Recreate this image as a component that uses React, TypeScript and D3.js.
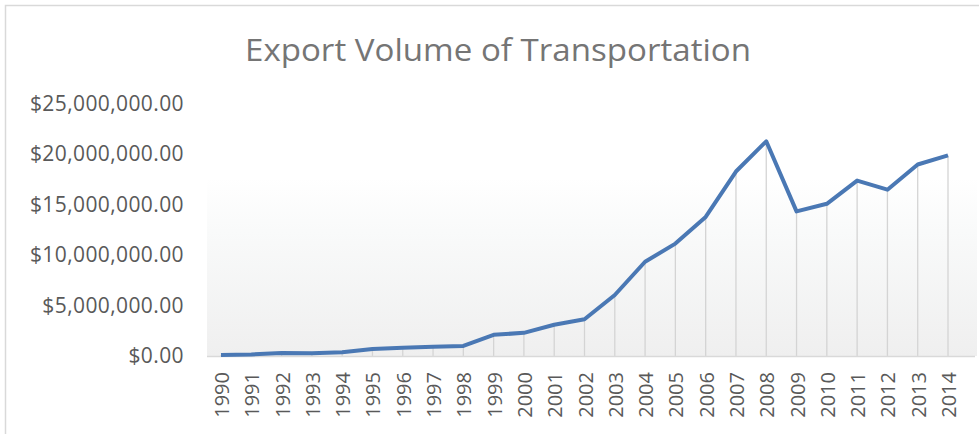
import React, { useEffect, useRef } from 'react';
import * as d3 from 'd3';

const years: string[] = [
  '1990', '1991', '1992', '1993', '1994', '1995', '1996', '1997', '1998', '1999',
  '2000', '2001', '2002', '2003', '2004', '2005', '2006', '2007', '2008', '2009',
  '2010', '2011', '2012', '2013', '2014',
];

const exportVolume: number[] = [
  100000, 150000, 300000, 280000, 380000, 700000, 830000, 920000, 1000000, 2100000,
  2300000, 3100000, 3650000, 6050000, 9350000, 11150000, 13800000, 18300000, 21300000, 14350000,
  15100000, 17400000, 16500000, 19000000, 19900000,
];

const yTicks: number[] = [0, 5000000, 10000000, 15000000, 20000000, 25000000];

const App: React.FC = () => {
  const ref = useRef<SVGSVGElement | null>(null);

  useEffect(() => {
    if (!ref.current) return;
    const svg = d3.select(ref.current);
    svg.selectAll('*').remove();

    const width = 979;
    const height = 434;
    const plot = { left: 207, right: 977, top: 178, bottom: 356 };

    // chart border (top + left)
    svg.append('path')
      .attr('d', `M5.5,${height} L5.5,5.5 L${width},5.5`)
      .attr('fill', 'none')
      .attr('stroke', '#d9d9d9')
      .attr('stroke-width', 1.5);

    // gradient plot background
    const defs = svg.append('defs');
    const grad = defs.append('linearGradient')
      .attr('id', 'bg')
      .attr('x1', 0).attr('y1', 0).attr('x2', 0).attr('y2', 1);
    grad.append('stop').attr('offset', '0%').attr('stop-color', '#ffffff');
    grad.append('stop').attr('offset', '30%').attr('stop-color', '#f9fafa');
    grad.append('stop').attr('offset', '100%').attr('stop-color', '#efefef');

    svg.append('rect')
      .attr('x', plot.left)
      .attr('y', plot.top)
      .attr('width', plot.right - plot.left)
      .attr('height', plot.bottom - plot.top)
      .attr('fill', 'url(#bg)');

    const x = d3.scalePoint<string>()
      .domain(years)
      .range([221, 948]);

    const y = d3.scaleLinear()
      .domain([0, 25000000])
      .range([356, 104]);

    // title
    svg.append('text')
      .attr('x', 498)
      .attr('y', 61)
      .attr('text-anchor', 'middle')
      .style('font-family', '"Open Sans", sans-serif')
      .style('font-size', '31px')
      .style('fill', '#757575')
      .attr('textLength', 506)
      .attr('lengthAdjust', 'spacingAndGlyphs')
      .text('Export Volume of Transportation');

    // y axis labels
    const fmt = d3.format('$,.2f');
    svg.append('g')
      .selectAll('text')
      .data(yTicks)
      .enter()
      .append('text')
      .attr('x', 184)
      .attr('y', (d) => y(d) + 7)
      .attr('text-anchor', 'end')
      .style('font-family', '"Open Sans", sans-serif')
      .style('font-size', '21px')
      .style('letter-spacing', '0.4px')
      .style('fill', '#595959')
      .text((d) => fmt(d));

    // drop lines
    svg.append('g')
      .selectAll('line')
      .data(exportVolume)
      .enter()
      .append('line')
      .attr('x1', (_, i) => x(years[i]) || 0)
      .attr('x2', (_, i) => x(years[i]) || 0)
      .attr('y1', (d) => y(d))
      .attr('y2', y(0))
      .attr('stroke', '#d4d4d4')
      .attr('stroke-width', 1.3);

    // baseline
    svg.append('line')
      .attr('x1', plot.left)
      .attr('x2', plot.right - 2)
      .attr('y1', y(0) + 0.5)
      .attr('y2', y(0) + 0.5)
      .attr('stroke', '#d9d9d9')
      .attr('stroke-width', 1.5);

    // series line
    const line = d3.line<number>()
      .x((_, i) => x(years[i]) || 0)
      .y((d) => y(d));

    svg.append('path')
      .datum(exportVolume)
      .attr('d', line)
      .attr('fill', 'none')
      .attr('stroke', '#4a78b4')
      .attr('stroke-width', 4)
      .attr('stroke-linejoin', 'round');

    // x axis labels (rotated)
    svg.append('g')
      .selectAll('text')
      .data(years)
      .enter()
      .append('text')
      .attr('transform', (d) => `translate(${(x(d) || 0) + 8},372) rotate(-90)`)
      .attr('text-anchor', 'end')
      .style('font-family', '"Open Sans", sans-serif')
      .style('font-size', '20px')
      .style('fill', '#595959')
      .text((d) => d);
  }, []);

  return (
    <svg
      ref={ref}
      width={979}
      height={434}
      style={{ position: 'absolute', left: 0, top: 0, background: '#ffffff' }}
    />
  );
};

export default App;
